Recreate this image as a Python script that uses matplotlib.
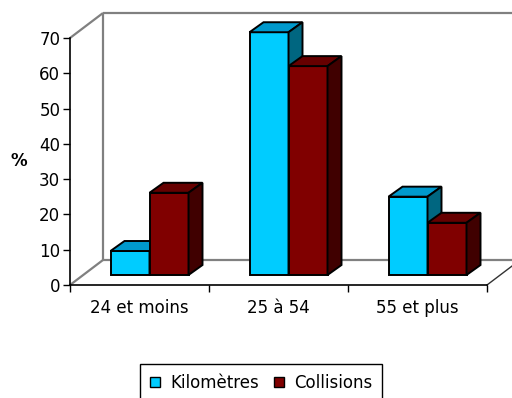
import matplotlib.pyplot as plt
from matplotlib.patches import Polygon, Patch

plt.rcParams["font.family"] = ["DejaVu Sans"]

categories = ["24 et moins", "25 à 54", "55 et plus"]
series = ["Kilomètres", "Collisions"]
kilometres = [6.8, 68.8, 22.2]
collisions = [23.3, 59.2, 14.8]
yticks = [0, 10, 20, 30, 40, 50, 60, 70]

front_colors = ["#00ccff", "#800000"]
top_colors = ["#0099cc", "#660000"]
side_colors = ["#006680", "#400000"]

W, H = 512, 398
fig = plt.figure(figsize=(W / 100, H / 100), dpi=100)
# front plane of the plot box, in pixels
left, right, y0, y70 = 70, 487, 285, 38
ax = fig.add_axes([left / W, (H - y0) / H, (right - left) / W, (y0 - y70) / H])
ax.set_xlim(-0.5, 2.5)
ax.set_ylim(0, 70)

# pixel -> data unit helpers
px_x = 3 / (right - left)
px_y = 70 / (y0 - y70)

# depth of floor/wall, bar offset, bar depth (pixels right, pixels up)
floor_dx, floor_dy = 33 * px_x, 25 * px_y
bar_ox, bar_oy = 10 * px_x, 10 * px_y
bar_dx, bar_dy = 14 * px_x, 10 * px_y
bw = 39 * px_x

grey = "#808080"
kw = dict(color=grey, lw=1.6, clip_on=False, zorder=1, solid_capstyle="butt")
# back wall
ax.plot([-0.5 + floor_dx] * 2, [floor_dy, 70 + floor_dy], **kw)
ax.plot([-0.5 + floor_dx, 2.5 + floor_dx + 0.5], [70 + floor_dy] * 2, **kw)
ax.plot([-0.5, -0.5 + floor_dx], [70, 70 + floor_dy], **kw)
# floor
ax.plot([-0.5 + floor_dx, 2.5 + floor_dx], [floor_dy] * 2, **kw)
ax.plot([-0.5, -0.5 + floor_dx], [0, floor_dy], **kw)
ax.plot([2.5, 2.5 + floor_dx], [0, floor_dy], color="#333333", lw=1, clip_on=False, zorder=1)

z = 3
for i in range(len(categories)):
    for j, vals in enumerate([kilometres, collisions]):
        v = vals[i]
        x0 = i - bw + j * bw + bar_ox
        b = bar_oy
        t = b + v
        ek = dict(edgecolor="black", lw=1.4, clip_on=False, joinstyle="miter")
        ax.add_patch(Polygon([(x0, b), (x0 + bw, b), (x0 + bw, t), (x0, t)],
                             facecolor=front_colors[j], zorder=z, **ek))
        ax.add_patch(Polygon([(x0, t), (x0 + bw, t), (x0 + bw + bar_dx, t + bar_dy), (x0 + bar_dx, t + bar_dy)],
                             facecolor=top_colors[j], zorder=z, **ek))
        ax.add_patch(Polygon([(x0 + bw, b), (x0 + bw + bar_dx, b + bar_dy), (x0 + bw + bar_dx, t + bar_dy), (x0 + bw, t)],
                             facecolor=side_colors[j], zorder=z, **ek))
        z += 1

for s in ["top", "right"]:
    ax.spines[s].set_visible(False)
for s in ["left", "bottom"]:
    ax.spines[s].set_color("black")
    ax.spines[s].set_linewidth(1.2)
ax.patch.set_visible(False)

ax.set_yticks(yticks)
ax.tick_params(axis="y", direction="out", length=5, width=1, labelsize=12, pad=2)
ax.set_xticks([-0.5, 0.5, 1.5, 2.5])
ax.set_xticklabels([])
ax.tick_params(axis="x", which="major", direction="out", length=5, width=1)
ax.set_xticks([0, 1, 2], categories, minor=True)
ax.tick_params(axis="x", which="minor", length=0, labelsize=12, pad=10)

fig.text(19 / W, 1 - 161 / H, "%", fontsize=12, fontweight="bold", ha="center", va="center")

handles = [Patch(facecolor=c, edgecolor="black", lw=1) for c in front_colors]
fig.legend(handles, series, loc="upper left", bbox_to_anchor=(140 / W, 1 - 364 / H),
           fontsize=12, frameon=True, fancybox=False, edgecolor="black",
           ncol=2, handlelength=0.6, handleheight=0.6, handletextpad=0.6,
           columnspacing=0.9, borderpad=0.6, borderaxespad=0, framealpha=1)

fig.savefig("out.png", dpi=100)
